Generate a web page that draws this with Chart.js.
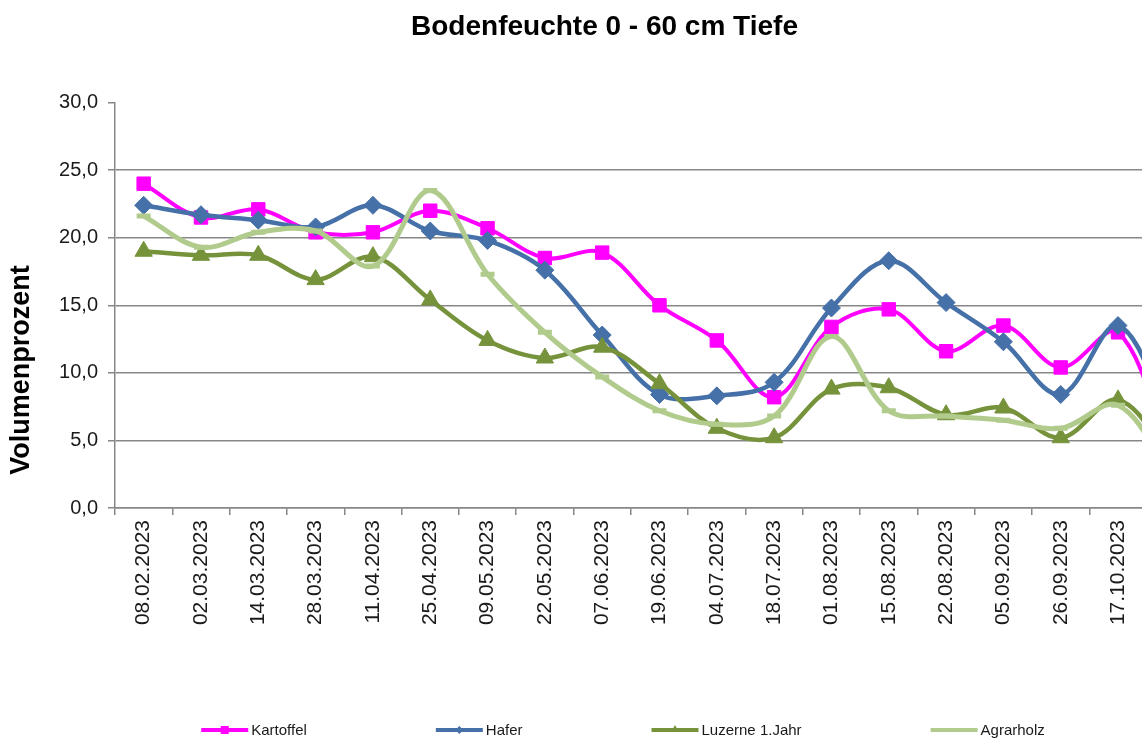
<!DOCTYPE html>
<html>
<head>
<meta charset="utf-8">
<script src="https://cdn.jsdelivr.net/npm/chart.js@4.4.1/dist/chart.umd.min.js"></script>
<style>
    html, body { margin: 0; padding: 0; background: #fff; overflow: hidden; }
    #wrap { width: 1142px; height: 740px; overflow: hidden; }
</style>
</head>
<body>
<div id="wrap">
    <canvas id="myChart" width="1216" height="740"></canvas>
</div>
<script>
// Messtermine (der letzte liegt im Original schon außerhalb des Bildes)
const labels = ['08.02.2023', '02.03.2023', '14.03.2023', '28.03.2023', '11.04.2023', '25.04.2023',
    '09.05.2023', '22.05.2023', '07.06.2023', '19.06.2023', '04.07.2023', '18.07.2023',
    '01.08.2023', '15.08.2023', '22.08.2023', '05.09.2023', '26.09.2023', '17.10.2023', '07.11.2023'];

// Volumenprozent je Kultur
const kartoffel = [24.0, 21.5, 22.1, 20.4, 20.4, 22.0, 20.7, 18.5, 18.9, 15.0, 12.4, 8.2, 13.4, 14.7, 11.6, 13.5, 10.4, 13.0, 2.5];
const hafer = [22.4, 21.7, 21.3, 20.8, 22.4, 20.5, 19.8, 17.6, 12.8, 8.4, 8.3, 9.3, 14.8, 18.3, 15.2, 12.3, 8.4, 13.5, 5.5];
const luzerne = [19.0, 18.7, 18.7, 16.9, 18.6, 15.4, 12.4, 11.1, 11.9, 9.2, 5.9, 5.2, 8.8, 8.9, 6.9, 7.4, 5.2, 8.0, 3.2];
const agrarholz = [21.6, 19.3, 20.4, 20.5, 17.9, 23.5, 17.3, 13.0, 9.7, 7.2, 6.2, 6.8, 12.7, 7.2, 6.8, 6.5, 5.9, 7.6, 1.8];

// Achsen-Skala
const yMin = 0;
const yMax = 30;
const yStep = 5;
const yTitle = 'Volumenprozent';

const gridColor = '#878787';
const fontFamily = '"Liberation Sans", Arial, sans-serif';

function series(label, data, color, style, radius, width) {
    return {
        label: label,
        data: data,
        borderColor: color,
        backgroundColor: color,
        borderWidth: width,
        tension: 0.35,
        fill: false,
        pointStyle: style,
        pointRadius: radius,
        pointBorderWidth: style === 'line' ? 5 : 1,
        pointBackgroundColor: color,
        pointBorderColor: color
    };
}

// Legende wie in Excel: kurze Linie mit Marker, große Abstände.
// Außerdem der Achsentitel, der in Excel auf die ganze Diagrammhöhe zentriert ist.
const excelLegend = {
    id: 'excelLegend',
    afterDraw(chart) {
        const ctx = chart.ctx;
        ctx.save();
        ctx.font = '15px ' + fontFamily;
        const lineLen = 47, gap = 3, spacing = 129;
        const items = chart.data.datasets.map(function (ds) {
            return { ds: ds, w: lineLen + gap + ctx.measureText(ds.label).width };
        });
        const total = items.reduce(function (s, it) { return s + it.w; }, 0) + spacing * (items.length - 1);
        let x = 623 - total / 2;
        const y = 730;
        items.forEach(function (it) {
            const c = it.ds.borderColor;
            ctx.strokeStyle = c;
            ctx.fillStyle = c;
            ctx.lineWidth = 4;
            ctx.beginPath();
            ctx.moveTo(x, y);
            ctx.lineTo(x + lineLen, y);
            ctx.stroke();
            const mx = x + lineLen / 2;
            ctx.beginPath();
            if (it.ds.pointStyle === 'rect') {
                ctx.rect(mx - 4, y - 4, 8, 8);
            } else if (it.ds.pointStyle === 'rectRot') {
                ctx.moveTo(mx, y - 4); ctx.lineTo(mx + 4, y); ctx.lineTo(mx, y + 4); ctx.lineTo(mx - 4, y);
            } else if (it.ds.pointStyle === 'triangle') {
                ctx.moveTo(mx, y - 5); ctx.lineTo(mx + 4, y + 2); ctx.lineTo(mx - 4, y + 2);
            }
            ctx.closePath();
            ctx.fill();
            ctx.fillStyle = '#1a1a1a';
            ctx.textBaseline = 'middle';
            ctx.textAlign = 'left';
            ctx.fillText(it.ds.label, x + lineLen + gap, y + 1);
            x += it.w + spacing;
        });

        // y-Achsentitel
        ctx.translate(22, chart.height / 2);
        ctx.rotate(-Math.PI / 2);
        ctx.font = 'bold 27px ' + fontFamily;
        ctx.fillStyle = '#000';
        ctx.textAlign = 'center';
        ctx.textBaseline = 'middle';
        ctx.fillText(yTitle, 0, 0);
        ctx.restore();
    }
};

const ctx = document.getElementById('myChart').getContext('2d');
const datasets = [
    series('Kartoffel', kartoffel, '#ff00ff', 'rect', 9.5, 4),
    series('Hafer', hafer, '#4570a8', 'rectRot', 9, 4.5),
    series('Luzerne 1.Jahr', luzerne, '#76933c', 'triangle', 10, 4.5),
    series('Agrarholz', agrarholz, '#b1cb8c', 'line', 7, 5)
];
// Reihenfolge wie in Excel: spätere Reihen liegen oben
datasets.forEach(function (ds, i) { ds.order = datasets.length - i; });

window.myChart = new Chart(ctx, {
    type: 'line',
    data: { labels: labels, datasets: datasets },
    options: {
        responsive: false,
        animation: false,
        layout: { padding: { left: 0, right: 7, top: 0, bottom: 0 } },
        plugins: {
            legend: { display: false },
            tooltip: { enabled: false },
            title: {
                display: true,
                text: 'Bodenfeuchte 0 - 60 cm Tiefe',
                color: '#000',
                font: { family: fontFamily, size: 28, weight: 'bold' },
                padding: { top: 10, bottom: 59 }
            }
        },
        scales: {
            x: {
                offset: true,
                grid: {
                    display: true,
                    offset: true,
                    drawOnChartArea: false,
                    drawTicks: true,
                    tickLength: 7,
                    color: gridColor,
                    lineWidth: 1.5
                },
                border: { color: gridColor, width: 1.5 },
                ticks: {
                    autoSkip: false,
                    minRotation: 90,
                    maxRotation: 90,
                    padding: 5,
                    color: '#1a1a1a',
                    font: { family: fontFamily, size: 21 }
                },
                afterFit: function (scale) { scale.height = 232; }
            },
            y: {
                min: yMin,
                max: yMax,
                grid: {
                    color: function (c) {
                        return (c.tick && c.tick.value === yMax) ? 'rgba(0,0,0,0)' : gridColor;
                    },
                    tickColor: gridColor,
                    tickLength: 7,
                    lineWidth: 1.5
                },
                border: { color: gridColor, width: 1.5 },
                ticks: {
                    stepSize: yStep,
                    padding: 10,
                    color: '#1a1a1a',
                    font: { family: fontFamily, size: 20 },
                    callback: function (value) {
                        return value.toFixed(1).replace('.', ',');
                    }
                },
                afterFit: function (scale) { scale.width = 115; }
            }
        }
    },
    plugins: [excelLegend]
});
</script>
</body>
</html>
